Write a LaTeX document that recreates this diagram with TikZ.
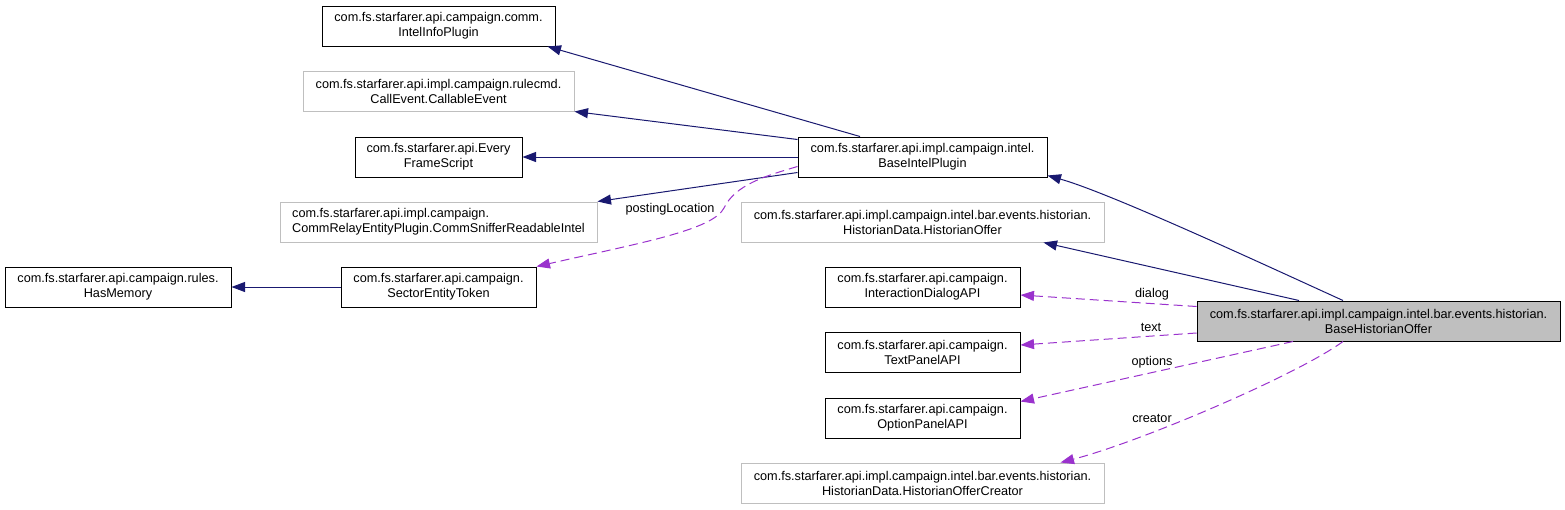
\documentclass[tikz,border=0pt]{standalone}
\usepackage{fontspec}
\setmainfont{Liberation Sans}
\usetikzlibrary{arrows.meta}
\definecolor{navyc}{HTML}{191970}
\definecolor{orchidc}{HTML}{9A32CD}
\definecolor{greyc}{HTML}{BFBFBF}
\tikzset{
  cls/.style={draw=black, line width=1pt, minimum height=40pt, inner sep=0pt, align=center,
    font=\fontsize{12.7}{15}\selectfont},
  clsgrey/.style={cls, draw=greyc},
  clsmain/.style={cls, fill=greyc},
  inh/.style={draw=navyc, line width=1pt, -{Triangle[length=13.5pt,width=10pt,fill=navyc]}},
  usesrel/.style={draw=orchidc, line width=1pt, dash pattern=on 9pt off 5pt,
    -{Triangle[length=13.5pt,width=10pt,fill=orchidc]}},
  elabel/.style={inner sep=0pt, font=\fontsize{12.7}{15}\selectfont}
}
\begin{document}
\begin{tikzpicture}[x=1pt,y=-1pt]
\useasboundingbox (0,0) rectangle (1565,509);
% left column
\node[cls, minimum width=233pt] (iip) at (438.5,26) {com.fs.starfarer.api.campaign.comm.\\IntelInfoPlugin};
\node[clsgrey, minimum width=271pt] (ce) at (438.5,91) {com.fs.starfarer.api.impl.campaign.rulecmd.\\CallEvent.CallableEvent};
\node[cls, minimum width=167pt] (efs) at (438.5,157) {com.fs.starfarer.api.Every\\FrameScript};
\node[clsgrey, minimum width=317pt, align=left] (cs) at (438.5,222) {com.fs.starfarer.api.impl.campaign.\\CommRelayEntityPlugin.CommSnifferReadableIntel};
\node[cls, minimum width=226pt] (hm) at (118,287) {com.fs.starfarer.api.campaign.rules.\\HasMemory};
\node[cls, minimum width=195pt] (set) at (438.5,287) {com.fs.starfarer.api.campaign.\\SectorEntityToken};
% middle column
\node[cls, minimum width=249pt] (bip) at (922.5,157) {com.fs.starfarer.api.impl.campaign.intel.\\BaseIntelPlugin};
\node[clsgrey, minimum width=363pt] (ho) at (922.5,222) {com.fs.starfarer.api.impl.campaign.intel.bar.events.historian.\\HistorianData.HistorianOffer};
\node[cls, minimum width=195pt] (ida) at (922.5,287) {com.fs.starfarer.api.campaign.\\InteractionDialogAPI};
\node[cls, minimum width=195pt] (tpa) at (922.5,352) {com.fs.starfarer.api.campaign.\\TextPanelAPI};
\node[cls, minimum width=195pt] (opa) at (922.5,418) {com.fs.starfarer.api.campaign.\\OptionPanelAPI};
\node[clsgrey, minimum width=363pt] (hoc) at (922.5,483) {com.fs.starfarer.api.impl.campaign.intel.bar.events.historian.\\HistorianData.HistorianOfferCreator};
% main class
\node[clsmain, minimum width=363pt] (bho) at (1378.5,321) {com.fs.starfarer.api.impl.campaign.intel.bar.events.historian.\\BaseHistorianOffer};
% inheritance edges of BaseIntelPlugin
\draw[inh] ([xshift=-62.5pt]bip.north) -- ([xshift=-8pt]iip.south east);
\draw[inh] ([yshift=-3pt]bip.north west) -- (ce.south east);
\draw[inh] (bip.west) -- (efs.east);
\draw[inh] ([yshift=5pt]bip.south west) -- (cs.north east);
\draw[usesrel] ([yshift=11pt]bip.south west) .. controls (765,176) and (735,185) .. (724,208)
  .. controls (713,230) and (640,243) .. (set.north east);
\node[elabel] (lpost) at (670,209) {postingLocation};
\draw[inh] (set.west) -- (hm.east);
% edges of BaseHistorianOffer
\draw[inh] ([xshift=-35.5pt]bho.north) .. controls (1265,265) and (1110,193) .. ([yshift=2pt]bip.south east);
\draw[inh] ([xshift=-79.5pt]bho.north) -- ([xshift=-61pt]ho.south east);
\draw[usesrel] ([yshift=-6pt]bho.north west) -- ([yshift=-8pt]ida.east);
\node[elabel] (ldialog) at (1152,294) {dialog};
\draw[usesrel] ([yshift=-12pt]bho.west) -- ([yshift=7pt]tpa.east);
\node[elabel] (ltext) at (1151,327) {text};
\draw[usesrel] ([xshift=-85.5pt]bho.south) -- ([yshift=-4pt]opa.north east);
\node[elabel] (loptions) at (1152,362) {options};
\draw[usesrel] ([xshift=-35.5pt]bho.south) .. controls (1297,375) and (1140,442) .. ([xshift=-44pt]hoc.north east);
\node[elabel] (lcreator) at (1152,418) {creator};
\end{tikzpicture}
\end{document}
